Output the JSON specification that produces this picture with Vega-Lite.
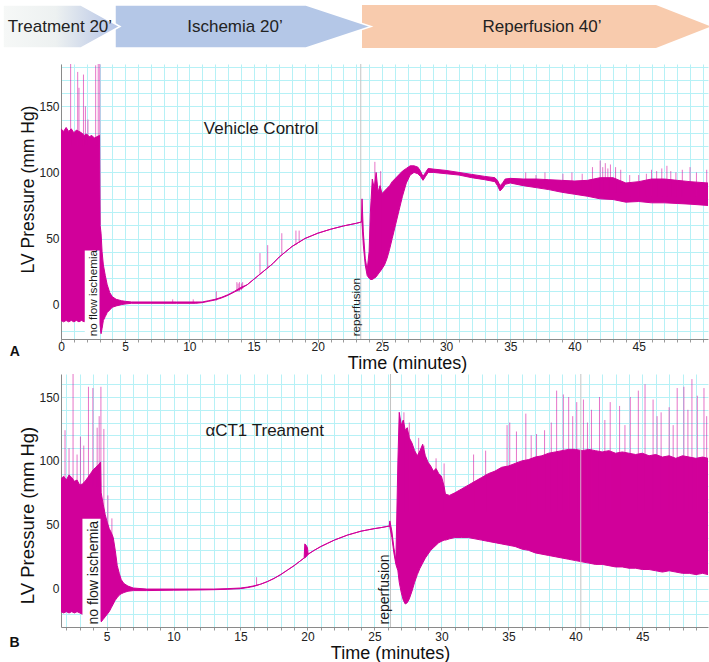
{
  "$schema": "https://vega.github.io/schema/vega-lite/v6.json",
  "usermeta": {"embedOptions": {"actions": false}},
  "background": "white",
  "padding": {"left": 0, "top": 2, "right": 0, "bottom": 0},
  "config": {
    "view": {"stroke": null},
    "font": "Liberation Sans",
    "axis": {
      "labelFont": "Liberation Sans",
      "titleFont": "Liberation Sans",
      "domainColor": "#8a8a8a",
      "gridColor": "#b6f1f6",
      "gridWidth": 1,
      "gridOpacity": 1,
      "labelColor": "#222222",
      "titleColor": "#111111",
      "titleFontWeight": "normal",
      "labelFontSize": 12
    }
  },
  "datasets": {
    "banner": [
      {"phase": "rep", "t": 23.448, "v": 1, "v2": 44},
      {"phase": "rep", "t": 46.35, "v": 1, "v2": 44},
      {"phase": "rep", "t": 50.63, "v": 22.5, "v2": 22.5},
      {"phase": "isch", "t": 4.207, "v": 1, "v2": 44},
      {"phase": "isch", "t": 19.085, "v": 1, "v2": 44},
      {"phase": "isch", "t": 24.149, "v": 22.5, "v2": 22.5},
      {"phase": "treat", "t": -4.518, "v": 1, "v2": 44},
      {"phase": "treat", "t": 1.558, "v": 1, "v2": 44},
      {"phase": "treat", "t": 4.596, "v": 22.5, "v2": 22.5}
    ],
    "bannerText": [
      {"t": -0.08, "v": 22.5, "label": "Treatment 20’"},
      {"t": 13.55, "v": 22.5, "label": "Ischemia 20’"},
      {"t": 37.47, "v": 22.5, "label": "Reperfusion 40’"}
    ],
    "aBand": [
      {"t":0,"v":-12,"v2":133},{"t":0.2,"v":-13,"v2":131},{"t":0.4,"v":-12,"v2":134},{"t":0.6,"v":-13,"v2":131},
      {"t":0.8,"v":-12,"v2":133},{"t":1.0,"v":-13,"v2":130},{"t":1.2,"v":-12,"v2":132},{"t":1.4,"v":-13,"v2":131},
      {"t":1.6,"v":-12,"v2":130},{"t":1.8,"v":-13,"v2":128},{"t":2.0,"v":-12,"v2":129},{"t":2.2,"v":-13,"v2":127},
      {"t":2.4,"v":-12,"v2":128},{"t":2.6,"v":-12,"v2":126},{"t":2.8,"v":-13,"v2":127},{"t":3.0,"v":-14,"v2":128},
      {"t":3.05,"v":-17,"v2":60},{"t":3.12,"v":-22,"v2":54},{"t":3.2,"v":-18,"v2":40},{"t":3.3,"v":-12,"v2":30},
      {"t":3.45,"v":-9,"v2":22},{"t":3.6,"v":-6,"v2":15},{"t":3.8,"v":-4,"v2":9},{"t":4.0,"v":-2,"v2":6},
      {"t":4.3,"v":-1,"v2":4},{"t":4.7,"v":0,"v2":3},{"t":5.0,"v":0.5,"v2":2.5},{"t":5.5,"v":1,"v2":2},
      {"t":7,"v":1,"v2":2},{"t":9,"v":1,"v2":2},{"t":10.5,"v":1,"v2":2},{"t":11,"v":1.5,"v2":2},
      {"t":11.5,"v":2.5,"v2":3},{"t":12,"v":3.5,"v2":4},{"t":12.5,"v":5,"v2":5.5},{"t":13,"v":7,"v2":7.5},
      {"t":13.5,"v":9.5,"v2":10},{"t":14,"v":12,"v2":13},{"t":14.5,"v":15,"v2":15},{"t":15,"v":19,"v2":19},
      {"t":15.5,"v":23,"v2":23},{"t":16,"v":27,"v2":27},{"t":16.5,"v":31,"v2":31},{"t":17,"v":36,"v2":36},
      {"t":17.5,"v":40,"v2":40},{"t":18,"v":44,"v2":44},{"t":18.5,"v":47,"v2":47},{"t":19,"v":50,"v2":50},
      {"t":19.5,"v":52,"v2":52},{"t":20,"v":54,"v2":54},{"t":21,"v":57,"v2":57},{"t":22,"v":59.5,"v2":59.5},
      {"t":23,"v":61.5,"v2":61.5},{"t":23.4,"v":62.5,"v2":62.5},{"t":23.45,"v":62,"v2":80},{"t":23.55,"v":45,"v2":55},
      {"t":23.7,"v":30,"v2":35},{"t":23.85,"v":22,"v2":26},{"t":24.0,"v":20,"v2":40},{"t":24.1,"v":19,"v2":70},
      {"t":24.25,"v":19,"v2":95},{"t":24.4,"v":20,"v2":88},{"t":24.55,"v":21,"v2":100},{"t":24.7,"v":23,"v2":85},
      {"t":24.85,"v":25,"v2":90},{"t":25.0,"v":27,"v2":84},{"t":25.2,"v":30,"v2":86},{"t":25.4,"v":35,"v2":88},
      {"t":25.6,"v":42,"v2":90},{"t":25.8,"v":50,"v2":93},{"t":26.0,"v":58,"v2":95},{"t":26.3,"v":70,"v2":98},
      {"t":26.6,"v":82,"v2":101},{"t":26.9,"v":92,"v2":103},{"t":27.2,"v":98,"v2":105},{"t":27.5,"v":100,"v2":105},
      {"t":27.8,"v":99,"v2":104},{"t":28.0,"v":97,"v2":101},{"t":28.2,"v":94,"v2":97},{"t":28.4,"v":97,"v2":100},
      {"t":28.6,"v":100,"v2":103},{"t":29,"v":100,"v2":102.5},{"t":30,"v":99,"v2":101.5},{"t":31,"v":98,"v2":100},
      {"t":32,"v":96,"v2":98.5},{"t":33,"v":94.5,"v2":97},{"t":33.8,"v":93,"v2":96},{"t":34.0,"v":90,"v2":94},
      {"t":34.2,"v":86,"v2":90},{"t":34.4,"v":88,"v2":92},{"t":34.6,"v":91,"v2":95},{"t":35,"v":92,"v2":95.5},
      {"t":36,"v":90,"v2":95},{"t":37,"v":88.5,"v2":95},{"t":38,"v":87,"v2":94.5},{"t":39,"v":85,"v2":94},
      {"t":40,"v":83.5,"v2":93.5},{"t":41,"v":82,"v2":94},{"t":42,"v":80,"v2":96},{"t":43,"v":79.5,"v2":96},
      {"t":44,"v":77.5,"v2":92},{"t":45,"v":78,"v2":93},{"t":46,"v":77,"v2":95},{"t":47,"v":77,"v2":95},
      {"t":48,"v":76.5,"v2":94},{"t":49,"v":76,"v2":93},{"t":50.4,"v":75,"v2":92}
    ],
    "aSpikes": [
      {"t":0.75,"v":120,"v2":182},{"t":1.3,"v":120,"v2":176},{"t":1.4,"v":120,"v2":164},{"t":1.75,"v":120,"v2":174},
      {"t":1.9,"v":120,"v2":150},{"t":2.1,"v":120,"v2":140},{"t":2.7,"v":120,"v2":181},{"t":2.9,"v":120,"v2":182},
      {"t":3.02,"v":60,"v2":182},
      {"t":8.7,"v":1,"v2":4},{"t":10.3,"v":1,"v2":4},{"t":12.1,"v":3,"v2":10},{"t":13.7,"v":10,"v2":17},
      {"t":13.8,"v":10,"v2":16},{"t":13.9,"v":10,"v2":17},{"t":14.05,"v":11,"v2":16},{"t":14.15,"v":12,"v2":17},
      {"t":15.5,"v":23,"v2":39},{"t":16.1,"v":28,"v2":45},{"t":17.2,"v":38,"v2":54},{"t":18.3,"v":45,"v2":56},
      {"t":18.55,"v":47,"v2":56},
      {"t":24.45,"v":20,"v2":108},{"t":24.9,"v":25,"v2":101},{"t":36.2,"v":90,"v2":100},{"t":37.0,"v":90,"v2":98},
      {"t":37.7,"v":90,"v2":100},{"t":39.1,"v":88,"v2":99},{"t":39.8,"v":88,"v2":100},{"t":40.6,"v":88,"v2":99},
      {"t":41.4,"v":85,"v2":104},{"t":42.0,"v":85,"v2":109},{"t":42.2,"v":85,"v2":104},{"t":42.4,"v":85,"v2":107},
      {"t":42.6,"v":85,"v2":103},{"t":42.8,"v":85,"v2":106},{"t":43.2,"v":85,"v2":104},{"t":43.6,"v":85,"v2":102},
      {"t":44.3,"v":82,"v2":98},{"t":45.0,"v":82,"v2":98},{"t":45.6,"v":82,"v2":99},{"t":46.0,"v":82,"v2":102},
      {"t":46.4,"v":82,"v2":101},{"t":46.8,"v":82,"v2":103},{"t":47.2,"v":82,"v2":105},{"t":47.5,"v":82,"v2":101},
      {"t":47.9,"v":82,"v2":100},{"t":48.4,"v":82,"v2":102},{"t":49.0,"v":82,"v2":104},{"t":49.5,"v":82,"v2":100},
      {"t":50.3,"v":82,"v2":102}
    ],
    "aRules": [{"t": 23.35, "v": -26, "v2": 182}],
    "aBox": [{"t": 1.85, "t2": 3.0, "v": -26, "v2": 41}],
    "aTitle": [{"t": 15.58, "v": 132.6, "label": "Vehicle Control"}],
    "aVert": [
      {"t": 2.49, "v": -24, "label": "no flow ischemia"},
      {"t": 22.97, "v": -24, "label": "reperfusion"}
    ],
    "aTag": [{"t": -3.6, "v": -35.6, "label": "A"}],
    "bBand": [
      {"t":1.6,"v":-18,"v2":86},{"t":1.8,"v":-19,"v2":88},{"t":2.0,"v":-18,"v2":85},{"t":2.2,"v":-19,"v2":89},
      {"t":2.4,"v":-18,"v2":87},{"t":2.6,"v":-19,"v2":84},{"t":2.8,"v":-18,"v2":85},{"t":3.0,"v":-19,"v2":81},
      {"t":3.2,"v":-20,"v2":82},{"t":3.4,"v":-21,"v2":84},{"t":3.6,"v":-22,"v2":87},{"t":3.8,"v":-23,"v2":90},
      {"t":4.0,"v":-24,"v2":93},{"t":4.2,"v":-23,"v2":95},{"t":4.4,"v":-22,"v2":97},{"t":4.55,"v":-25,"v2":99},
      {"t":4.6,"v":-26,"v2":75},{"t":4.75,"v":-24,"v2":66},{"t":4.9,"v":-22,"v2":58},{"t":5.05,"v":-20,"v2":52},
      {"t":5.2,"v":-18,"v2":47},{"t":5.35,"v":-15,"v2":44},{"t":5.5,"v":-12,"v2":40},{"t":5.65,"v":-9,"v2":30},
      {"t":5.8,"v":-7,"v2":18},{"t":5.95,"v":-5,"v2":12},{"t":6.1,"v":-4,"v2":7},{"t":6.3,"v":-3,"v2":4},
      {"t":6.6,"v":-2,"v2":2},{"t":7.0,"v":-1.5,"v2":0.5},{"t":8,"v":-1.5,"v2":-0.3},{"t":10,"v":-1.2,"v2":-0.3},
      {"t":12,"v":-1,"v2":-0.3},{"t":13,"v":-0.8,"v2":-0.3},{"t":14,"v":-0.5,"v2":0},{"t":15,"v":0,"v2":0.5},
      {"t":15.5,"v":0.8,"v2":1.2},{"t":16,"v":1.8,"v2":2.2},{"t":16.5,"v":3.5,"v2":3.5},{"t":17,"v":5.5,"v2":5.5},
      {"t":17.5,"v":8,"v2":8},{"t":18,"v":11,"v2":11},{"t":18.5,"v":14.5,"v2":14.5},{"t":19,"v":18,"v2":18},
      {"t":19.5,"v":22,"v2":22},{"t":19.75,"v":24,"v2":24},{"t":19.8,"v":24,"v2":35},{"t":19.9,"v":25,"v2":34},
      {"t":20.0,"v":26,"v2":32},{"t":20.05,"v":27,"v2":27},{"t":20.5,"v":30,"v2":30},{"t":21,"v":33,"v2":33},
      {"t":21.5,"v":35.5,"v2":35.5},{"t":22,"v":38,"v2":38},{"t":22.5,"v":40,"v2":40},{"t":23,"v":42,"v2":42},
      {"t":23.5,"v":43.5,"v2":43.5},{"t":24,"v":45,"v2":45},{"t":24.5,"v":46,"v2":46},{"t":25,"v":47,"v2":47},
      {"t":25.5,"v":47.8,"v2":47.8},{"t":26.1,"v":49,"v2":49},{"t":26.15,"v":48,"v2":53},{"t":26.3,"v":40,"v2":45},
      {"t":26.45,"v":28,"v2":32},{"t":26.6,"v":19,"v2":22},{"t":26.75,"v":14,"v2":100},{"t":26.85,"v":5,"v2":138},
      {"t":27.0,"v":-3,"v2":128},{"t":27.15,"v":-9,"v2":132},{"t":27.3,"v":-12,"v2":124},{"t":27.45,"v":-11,"v2":126},
      {"t":27.6,"v":-8,"v2":118},{"t":27.8,"v":-2,"v2":114},{"t":28.0,"v":5,"v2":108},{"t":28.2,"v":11,"v2":104},
      {"t":28.4,"v":16,"v2":108},{"t":28.6,"v":20,"v2":113},{"t":28.8,"v":24,"v2":104},{"t":29.0,"v":27,"v2":99},
      {"t":29.2,"v":30,"v2":96},{"t":29.4,"v":32,"v2":92},{"t":29.6,"v":34,"v2":94},{"t":29.8,"v":36,"v2":90},
      {"t":30.0,"v":37,"v2":88},{"t":30.2,"v":38,"v2":80},{"t":30.3,"v":38,"v2":74},{"t":30.6,"v":39,"v2":73},
      {"t":31,"v":40,"v2":75},{"t":31.5,"v":40,"v2":78},{"t":32,"v":40,"v2":81},{"t":32.5,"v":39,"v2":84},
      {"t":33,"v":38,"v2":87},{"t":33.5,"v":37,"v2":90},{"t":34,"v":36,"v2":92},{"t":34.5,"v":35,"v2":95},
      {"t":35,"v":34,"v2":96},{"t":35.5,"v":33,"v2":98},{"t":36,"v":31,"v2":100},{"t":36.5,"v":30,"v2":101},
      {"t":37,"v":28,"v2":103},{"t":37.5,"v":27,"v2":104},{"t":38,"v":26,"v2":106},{"t":38.5,"v":25,"v2":107},
      {"t":39,"v":24,"v2":108},{"t":39.5,"v":23,"v2":109},{"t":40,"v":22,"v2":109},{"t":40.5,"v":21,"v2":108},
      {"t":41,"v":20,"v2":109},{"t":41.5,"v":19,"v2":108},{"t":42,"v":19,"v2":107},{"t":42.5,"v":18,"v2":108},
      {"t":43,"v":17,"v2":106},{"t":43.5,"v":17,"v2":107},{"t":44,"v":16,"v2":106},{"t":44.5,"v":16,"v2":105},
      {"t":45,"v":15,"v2":106},{"t":45.5,"v":15,"v2":104},{"t":46,"v":14,"v2":105},{"t":46.5,"v":13,"v2":103},
      {"t":47,"v":14,"v2":104},{"t":47.5,"v":13,"v2":102},{"t":48,"v":12,"v2":104},{"t":48.5,"v":12,"v2":103},
      {"t":49,"v":11,"v2":102},{"t":49.5,"v":12,"v2":103},{"t":49.9,"v":11,"v2":102}
    ],
    "bSpikes": [
      {"t":1.9,"v":80,"v2":124},{"t":2.2,"v":80,"v2":110},{"t":2.5,"v":80,"v2":170},{"t":2.8,"v":80,"v2":105},
      {"t":3.05,"v":80,"v2":119},{"t":3.3,"v":80,"v2":112},{"t":3.65,"v":80,"v2":158},{"t":3.98,"v":80,"v2":157},
      {"t":4.3,"v":80,"v2":126},{"t":4.45,"v":80,"v2":135},{"t":4.58,"v":80,"v2":158},{"t":4.8,"v":60,"v2":125},
      {"t":5.1,"v":40,"v2":73},{"t":5.4,"v":35,"v2":55},{"t":16.2,"v":2,"v2":9},
      {"t":27.2,"v":60,"v2":138},{"t":27.6,"v":60,"v2":130},{"t":28.3,"v":60,"v2":118},{"t":28.7,"v":60,"v2":112},
      {"t":29.6,"v":60,"v2":102},{"t":30.2,"v":60,"v2":98},{"t":32.4,"v":60,"v2":105},{"t":33.3,"v":60,"v2":108},
      {"t":34.9,"v":60,"v2":128},{"t":35.1,"v":60,"v2":130},{"t":35.6,"v":60,"v2":123},{"t":36.3,"v":60,"v2":137},
      {"t":36.7,"v":60,"v2":120},{"t":37.1,"v":60,"v2":121},{"t":37.7,"v":60,"v2":124},{"t":38.2,"v":60,"v2":130},
      {"t":38.6,"v":60,"v2":155},{"t":39.1,"v":60,"v2":152},{"t":39.5,"v":60,"v2":150},{"t":39.8,"v":60,"v2":135},
      {"t":40.1,"v":60,"v2":146},{"t":40.6,"v":60,"v2":148},{"t":40.9,"v":60,"v2":130},{"t":41.2,"v":60,"v2":140},
      {"t":41.8,"v":60,"v2":150},{"t":42.2,"v":60,"v2":132},{"t":42.6,"v":60,"v2":146},{"t":43.3,"v":60,"v2":143},
      {"t":43.7,"v":60,"v2":128},{"t":44.1,"v":60,"v2":150},{"t":44.7,"v":60,"v2":155},{"t":45.2,"v":60,"v2":160},
      {"t":45.8,"v":60,"v2":148},{"t":46.1,"v":60,"v2":135},{"t":46.4,"v":60,"v2":138},{"t":47.0,"v":60,"v2":142},
      {"t":47.3,"v":60,"v2":128},{"t":47.6,"v":60,"v2":157},{"t":48.1,"v":60,"v2":158},{"t":48.4,"v":60,"v2":140},
      {"t":48.7,"v":60,"v2":164},{"t":49.1,"v":60,"v2":151},{"t":49.6,"v":60,"v2":157},{"t":49.8,"v":60,"v2":135}
    ],
    "bRules": [{"t": 26.2, "v": -30, "v2": 168}, {"t": 40.4, "v": -30, "v2": 168}],
    "bBox": [{"t": 3.2, "t2": 4.55, "v": -30, "v2": 54.7}],
    "bTitle": [{"t": 16.8, "v": 123.4, "label": "αCT1 Treament"}],
    "bVert": [
      {"t": 4.06, "v": -28, "label": "no flow ischemia"},
      {"t": 25.8, "v": -28, "label": "reperfusion"}
    ],
    "bTag": [{"t": -1.87, "v": -42.7, "label": "B"}]
  },
  "bounds": "flush",
  "spacing": 15,
  "vconcat": [
    {
      "width": 647,
      "height": 45,
      "encoding": {
        "x": {"field": "t", "type": "quantitative", "scale": {"domain": [0, 50.4], "nice": false, "zero": false}, "axis": null},
        "y": {"field": "v", "type": "quantitative", "scale": {"domain": [0, 45], "nice": false, "zero": false}, "axis": null}
      },
      "layer": [
        {
          "data": {"name": "banner"},
          "transform": [{"filter": "datum.phase === 'rep'"}],
          "mark": {"type": "area", "color": "#f8cbad"},
          "encoding": {"y2": {"field": "v2"}}
        },
        {
          "data": {"name": "banner"},
          "transform": [{"filter": "datum.phase === 'isch'"}],
          "mark": {"type": "area", "color": "#b4c7e7", "stroke": "white", "strokeWidth": 1.5},
          "encoding": {"y2": {"field": "v2"}}
        },
        {
          "data": {"name": "banner"},
          "transform": [{"filter": "datum.phase === 'treat'"}],
          "mark": {
            "type": "area",
            "color": {
              "gradient": "linear", "x1": 0, "y1": 0, "x2": 1, "y2": 0,
              "stops": [
                {"offset": 0, "color": "#f6f8f7"},
                {"offset": 0.45, "color": "#edf1f1"},
                {"offset": 0.75, "color": "#cdd7ea"},
                {"offset": 1, "color": "#b4c4e8"}
              ]
            },
            "stroke": "white", "strokeWidth": 1.5
          },
          "encoding": {"y2": {"field": "v2"}}
        },
        {
          "data": {"name": "bannerText"},
          "mark": {"type": "text", "fontSize": 17, "color": "#222222", "align": "center", "baseline": "middle"},
          "encoding": {"text": {"field": "label"}}
        }
      ]
    },
    {
      "bounds": "flush",
      "spacing": 35,
      "vconcat": [
        {
          "width": 647,
          "height": 275,
          "encoding": {
            "x": {
              "field": "t", "type": "quantitative",
              "scale": {"domain": [0, 50.4], "nice": false, "zero": false},
              "axis": {
                "title": "Time (minutes)",
                "grid": true,
                "values": [0,1,2,3,4,5,6,7,8,9,10,11,12,13,14,15,16,17,18,19,20,21,22,23,24,25,26,27,28,29,30,31,32,33,34,35,36,37,38,39,40,41,42,43,44,45,46,47,48,49,50],
                "labelExpr": "datum.value % 5 === 0 && datum.value < 50 ? datum.label : ''",
                "labelOverlap": false,
                "labelFlush": false,
                "labelPadding": -1,
                "tickSize": 3,
                "tickColor": "#9a9a9a",
                "titleFontSize": 18,
                "titlePadding": 2,
                "titleX": 346
              }
            },
            "y": {
              "field": "v", "type": "quantitative",
              "scale": {"domain": [-26, 182], "nice": false, "zero": false},
              "axis": {
                "title": "LV Pressure (mm Hg)",
                "grid": true,
                "values": [-20,-10,0,10,20,30,40,50,60,70,80,90,100,110,120,130,140,150,160,170,180],
                "labelExpr": "datum.value % 50 === 0 ? datum.label : ''",
                "labelOverlap": false,
                "ticks": false,
                "labelPadding": 2,
                "titleFontSize": 17.5,
                "titlePadding": 1,
                "titleY": 125
              }
            }
          },
          "layer": [
            {"data": {"name": "aRules"}, "mark": {"type": "rule", "color": "#c4c4c4", "strokeWidth": 1}, "encoding": {"y2": {"field": "v2"}}},
            {"data": {"name": "aBand"}, "mark": {"type": "area", "color": "#d1009a", "stroke": "#d1009a", "strokeWidth": 1, "clip": true}, "encoding": {"y2": {"field": "v2"}}},
            {"data": {"name": "aSpikes"}, "mark": {"type": "rule", "color": "#d1009a", "opacity": 0.55, "strokeWidth": 1, "clip": true}, "encoding": {"y2": {"field": "v2"}}},
            {"data": {"name": "aBox"}, "mark": {"type": "rect", "color": "white"}, "encoding": {"x2": {"field": "t2"}, "y2": {"field": "v2"}}},
            {"data": {"name": "aTitle"}, "mark": {"type": "text", "fontSize": 17, "color": "#1a1a1a", "align": "center", "baseline": "middle"}, "encoding": {"text": {"field": "label"}}},
            {"data": {"name": "aVert"}, "mark": {"type": "text", "fontSize": 11.7, "color": "#1a1a1a", "angle": 270, "align": "left", "baseline": "middle"}, "encoding": {"text": {"field": "label"}}},
            {"data": {"name": "aTag"}, "mark": {"type": "text", "fontSize": 14, "fontWeight": "bold", "color": "#111111", "align": "center", "baseline": "middle"}, "encoding": {"text": {"field": "label"}}}
          ]
        },
        {
          "width": 647,
          "height": 253,
          "encoding": {
            "x": {
              "field": "t", "type": "quantitative",
              "scale": {"domain": [1.6, 49.9], "nice": false, "zero": false},
              "axis": {
                "title": "Time (minutes)",
                "grid": true,
                "values": [2,3,4,5,6,7,8,9,10,11,12,13,14,15,16,17,18,19,20,21,22,23,24,25,26,27,28,29,30,31,32,33,34,35,36,37,38,39,40,41,42,43,44,45,46,47,48,49],
                "labelExpr": "datum.value % 5 === 0 ? datum.label : ''",
                "labelOverlap": false,
                "labelFlush": false,
                "labelPadding": 1,
                "tickSize": 3,
                "tickColor": "#9a9a9a",
                "titleFontSize": 18,
                "titlePadding": 2,
                "titleX": 329
              }
            },
            "y": {
              "field": "v", "type": "quantitative",
              "scale": {"domain": [-30, 168], "nice": false, "zero": false},
              "axis": {
                "title": "LV Pressure (mm Hg)",
                "grid": true,
                "values": [-20,-10,0,10,20,30,40,50,60,70,80,90,100,110,120,130,140,150,160],
                "labelExpr": "datum.value % 50 === 0 ? datum.label : ''",
                "labelOverlap": false,
                "ticks": false,
                "labelPadding": 2,
                "titleFontSize": 18.5,
                "titlePadding": 1,
                "titleY": 141
              }
            }
          },
          "layer": [
            {"data": {"name": "bRules"}, "mark": {"type": "rule", "color": "#c4c4c4", "strokeWidth": 1}, "encoding": {"y2": {"field": "v2"}}},
            {"data": {"name": "bBand"}, "mark": {"type": "area", "color": "#d1009a", "stroke": "#d1009a", "strokeWidth": 1, "clip": true}, "encoding": {"y2": {"field": "v2"}}},
            {"data": {"name": "bSpikes"}, "mark": {"type": "rule", "color": "#d1009a", "opacity": 0.55, "strokeWidth": 1, "clip": true}, "encoding": {"y2": {"field": "v2"}}},
            {"data": {"name": "bRules"}, "transform": [{"filter": "datum.t > 30"}], "mark": {"type": "rule", "color": "#d9d9d9", "strokeWidth": 1, "opacity": 0.8}, "encoding": {"y2": {"field": "v2"}}},
            {"data": {"name": "bBox"}, "mark": {"type": "rect", "color": "white"}, "encoding": {"x2": {"field": "t2"}, "y2": {"field": "v2"}}},
            {"data": {"name": "bTitle"}, "mark": {"type": "text", "fontSize": 17, "color": "#1a1a1a", "align": "center", "baseline": "middle"}, "encoding": {"text": {"field": "label"}}},
            {"data": {"name": "bVert"}, "mark": {"type": "text", "fontSize": 14, "color": "#1a1a1a", "angle": 270, "align": "left", "baseline": "middle"}, "encoding": {"text": {"field": "label"}}},
            {"data": {"name": "bTag"}, "mark": {"type": "text", "fontSize": 14, "fontWeight": "bold", "color": "#111111", "align": "center", "baseline": "middle"}, "encoding": {"text": {"field": "label"}}}
          ]
        }
      ]
    }
  ]
}
